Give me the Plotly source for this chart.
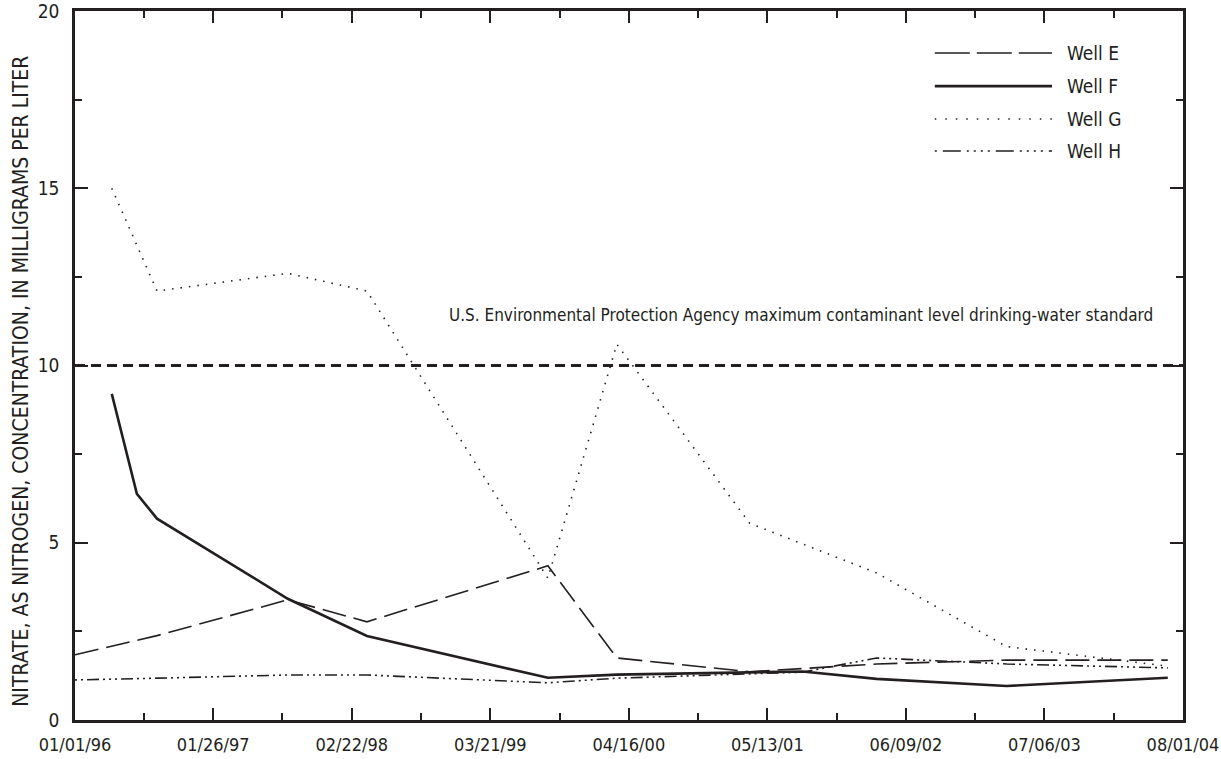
import pandas as pd
import plotly.graph_objects as go

# ---- data ----
dates_e = ["1996-01-01", "1996-06-24", "1996-08-20", "1997-08-25", "1998-04-06", "1999-08-31",
           "2000-03-13", "2001-03-24", "2002-03-18", "2003-03-21", "2004-06-19"]
well_e = [1.84, 2.25, 2.38, 3.39, 2.77, 4.35, 1.75, 1.36, 1.58, 1.69, 1.69]

dates_f = ["1996-04-14", "1996-06-24", "1996-08-20", "1997-08-25", "1998-04-06", "1999-08-31",
           "2000-03-13", "2001-08-21", "2002-03-18", "2003-03-21", "2004-06-19"]
well_f = [9.2, 6.38, 5.68, 3.42, 2.37, 1.19, 1.28, 1.37, 1.16, 0.96, 1.19]

dates_g = ["1996-04-14", "1996-08-20", "1997-08-25", "1998-04-06", "1999-08-31", "2000-03-13",
           "2001-03-24", "2002-03-18", "2003-03-21", "2004-06-19"]
well_g = [15.0, 12.1, 12.6, 12.1, 4.0, 10.6, 5.55, 4.15, 2.07, 1.52]

dates_h = ["1996-01-01", "1996-06-24", "1996-08-20", "1997-08-25", "1998-04-06", "1999-08-31",
           "2000-03-13", "2001-08-21", "2002-03-18", "2003-03-21", "2004-06-19"]
well_h = [1.13, 1.18, 1.18, 1.27, 1.27, 1.05, 1.18, 1.35, 1.75, 1.58, 1.47]

mcl_value = 10
mcl_label = "U.S. Environmental Protection Agency maximum contaminant level drinking-water standard"

x_tick_dates = ["1996-01-01", "1997-01-26", "1998-02-22", "1999-03-21", "2000-04-16",
                "2001-05-13", "2002-06-09", "2003-07-06", "2004-08-01"]
x_tick_labels = ["01/01/96", "01/26/97", "02/22/98", "03/21/99", "04/16/00",
                 "05/13/01", "06/09/02", "07/06/03", "08/01/04"]
y_tick_vals = [0, 5, 10, 15, 20]
y_minor_vals = [2.5, 7.5, 12.5, 17.5]
y_title = "NITRATE, AS NITROGEN, CONCENTRATION, IN MILLIGRAMS PER LITER"

series_names = ["Well E", "Well F", "Well G", "Well H"]

# ---- styling ----
INK = "#231f20"
FONT = "Liberation Sans Narrow, Arial Narrow, DejaVu Sans Condensed, sans-serif"
styles = {
    "Well E": dict(width=1.6, dash="24px,8px"),
    "Well F": dict(width=2.6, dash="solid"),
    "Well G": dict(width=1.6, dash="1.5px,7px"),
    "Well H": dict(width=1.6, dash="2px,4px,2px,4px,12px,4px,2px,4px"),
}
legend_dash = {
    "Well E": "35px,7px",
    "Well F": "solid",
    "Well G": "1.5px,9px",
    "Well H": "2px,6px,18px,6px,2px,5px,2px,5px,2px,5px",
}

majors = pd.to_datetime(x_tick_dates)
minor_ticks = list(majors[:-1] + (majors[1:] - majors[:-1]) / 2)
x_range = [majors[0] - pd.Timedelta(hours=2), majors[-1] + pd.Timedelta(hours=2)]

fig = go.Figure()
all_series = [(dates_e, well_e), (dates_f, well_f), (dates_g, well_g), (dates_h, well_h)]
for name, (xs, ys) in zip(series_names, all_series):
    fig.add_trace(go.Scatter(x=pd.to_datetime(xs), y=ys, mode="lines", name=name,
                             line=dict(color=INK, **styles[name]), showlegend=False))

# MCL reference line
fig.add_trace(go.Scatter(x=[majors[0], majors[-1]], y=[mcl_value, mcl_value], mode="lines",
                         line=dict(color=INK, width=2.8, dash="10px,6px"), showlegend=False))

fig.update_layout(
    width=1221, height=759,
    margin=dict(l=75, r=38, t=11, b=39),
    paper_bgcolor="white", plot_bgcolor="white",
    font=dict(family=FONT, color=INK, size=19),
)
fig.update_xaxes(
    type="date", range=x_range, automargin=False,
    tickvals=majors, ticktext=x_tick_labels,
    ticks="inside", ticklen=12, tickwidth=1.5, tickcolor=INK,
    minor=dict(tickvals=minor_ticks, ticks="inside", ticklen=7, tickwidth=1.5, tickcolor=INK),
    showline=True, linecolor=INK, linewidth=2.6, mirror="ticks",
    showgrid=False, zeroline=False, ticklabelstandoff=7,
    ticklabeloverflow="allow",
    tickfont=dict(size=18, family=FONT, color=INK),
)
fig.update_yaxes(
    range=[0, 20], tickvals=y_tick_vals, automargin=False,
    ticks="inside", ticklen=13, tickwidth=1.5, tickcolor=INK,
    minor=dict(tickvals=y_minor_vals, ticks="inside", ticklen=7, tickwidth=1.5, tickcolor=INK),
    showline=True, linecolor=INK, linewidth=2.6, mirror="ticks",
    showgrid=False, zeroline=False, ticklabelstandoff=9,
    ticklabeloverflow="allow",
    tickfont=dict(size=19, family=FONT, color=INK),
)

# y-axis title
fig.add_annotation(text=y_title, xref="paper", yref="paper", x=-0.049, y=0.478,
                   xanchor="center", yanchor="middle", textangle=-90, showarrow=False,
                   font=dict(size=21, family=FONT, color=INK))

# MCL label
fig.add_annotation(text=mcl_label, xref="paper", yref="paper", x=0.975, y=0.571,
                   xanchor="right", yanchor="middle", showarrow=False,
                   font=dict(size=17, family=FONT, color=INK))

# custom legend
legend_y = [0.9408, 0.894, 0.8477, 0.8025]
for name, ly in zip(series_names, legend_y):
    w = styles[name]["width"]
    fig.add_shape(type="line", xref="paper", yref="paper", x0=0.776, x1=0.8818, y0=ly, y1=ly,
                  line=dict(color=INK, width=w, dash=legend_dash[name]))
    fig.add_annotation(text=name, xref="paper", yref="paper", x=0.8935, y=ly,
                       xanchor="left", yanchor="middle", showarrow=False,
                       font=dict(size=19, family=FONT, color=INK))

fig.write_html("out.html")
